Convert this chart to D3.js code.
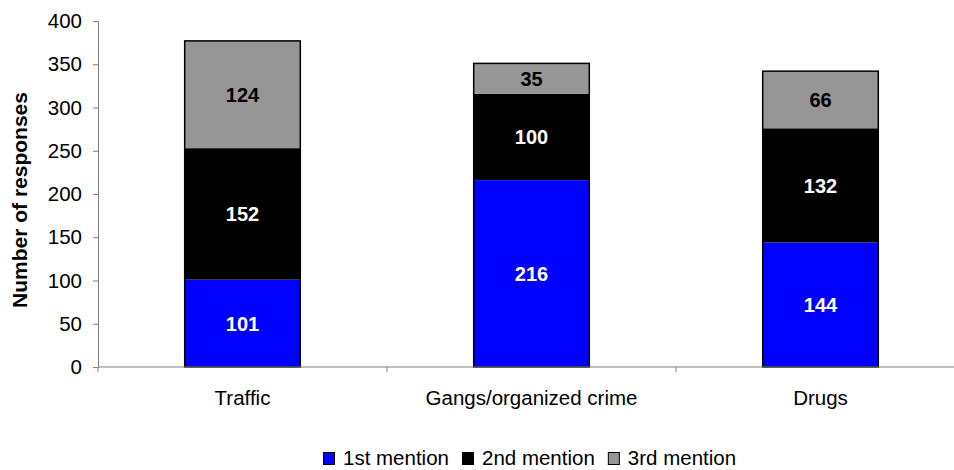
<!DOCTYPE html>
<html>
<head>
<meta charset="utf-8">
<script src="https://cdn.jsdelivr.net/npm/d3@7"></script>
<style>
  html, body { margin: 0; padding: 0; background: #fff; }
  svg { display: block; font-family: "Liberation Sans", Arial, sans-serif; }
</style>
</head>
<body>
<svg id="chart" width="954" height="470"></svg>
<script>
// Responses by category, stacked by mention order
const categories = ["Traffic", "Gangs/organized crime", "Drugs"];
const seriesNames = ["1st mention", "2nd mention", "3rd mention"];
const firstMention = [101, 216, 144];
const secondMention = [152, 100, 132];
const thirdMention = [124, 35, 66];
const yTicks = [0, 50, 100, 150, 200, 250, 300, 350, 400];
const colors = ["#0000ff", "#000000", "#969696"];
const labelColors = ["#ffffff", "#ffffff", "#000000"];

(function () {
  const rows = categories.map((c, i) => ({
    category: c,
    "1st mention": firstMention[i],
    "2nd mention": secondMention[i],
    "3rd mention": thirdMention[i]
  }));
  const total = d => d["1st mention"] + d["2nd mention"] + d["3rd mention"];

  const svg = d3.select("#chart");
  const plotLeft = 98, plotTop = 21, plotBottom = 367;
  const bandW = 289;
  const fontSize = 20.5;

  const x = d3.scaleBand()
    .domain(categories)
    .range([plotLeft, plotLeft + bandW * categories.length])
    .paddingInner(0.6).paddingOuter(0.3);

  const y = d3.scaleLinear().domain([0, 400]).range([plotBottom, plotTop]);

  const stack = d3.stack().keys(seriesNames)(rows);

  // Bars
  stack.forEach((layer, li) => {
    svg.append("g").selectAll("rect").data(layer).join("rect")
      .attr("x", d => x(d.data.category))
      .attr("y", d => y(d[1]))
      .attr("width", x.bandwidth())
      .attr("height", d => y(d[0]) - y(d[1]))
      .attr("fill", colors[li]);
  });

  // Outline around each stacked bar
  svg.append("g").selectAll("rect").data(rows).join("rect")
    .attr("x", d => x(d.category))
    .attr("y", d => y(total(d)))
    .attr("width", x.bandwidth())
    .attr("height", d => y(0) - y(total(d)))
    .attr("fill", "none").attr("stroke", "#000").attr("stroke-width", 1.5);

  // Value labels
  stack.forEach((layer, li) => {
    svg.append("g").selectAll("text").data(layer).join("text")
      .attr("x", d => x(d.data.category) + x.bandwidth() / 2)
      .attr("y", d => (y(d[0]) + y(d[1])) / 2)
      .attr("dy", "0.36em")
      .attr("text-anchor", "middle")
      .attr("font-size", 20).attr("font-weight", "bold")
      .attr("fill", labelColors[li])
      .text(d => d.data[seriesNames[li]]);
  });

  // Y axis
  const yAxis = svg.append("g").attr("transform", `translate(${plotLeft},0)`)
    .call(d3.axisLeft(y).tickValues(yTicks).tickSize(5).tickPadding(11));
  yAxis.select(".domain").attr("stroke", "#808080");
  yAxis.selectAll(".tick line").attr("stroke", "#808080");
  yAxis.selectAll(".tick text").attr("font-size", fontSize).attr("fill", "#000")
    .attr("font-family", "Liberation Sans, Arial, sans-serif");

  // X axis
  const xAxisG = svg.append("g").attr("transform", `translate(0,${plotBottom})`);
  xAxisG.append("line").attr("x1", plotLeft).attr("x2", 954).attr("y1", 0).attr("y2", 0)
    .attr("stroke", "#808080");
  const boundaries = d3.range(categories.length + 1).map(i => plotLeft + i * bandW);
  xAxisG.selectAll(".bt").data(boundaries).join("line")
    .attr("x1", d => d).attr("x2", d => d).attr("y1", 0).attr("y2", 5)
    .attr("stroke", "#808080");
  xAxisG.selectAll(".xl").data(categories).join("text")
    .attr("x", d => x(d) + x.bandwidth() / 2)
    .attr("y", 38)
    .attr("text-anchor", "middle")
    .attr("font-size", fontSize).attr("fill", "#000")
    .text(d => d);

  // Y axis title
  svg.append("text")
    .attr("transform", `translate(27,200) rotate(-90)`)
    .attr("text-anchor", "middle")
    .attr("font-size", 21).attr("font-weight", "bold")
    .text("Number of responses");

  // Legend
  const legend = svg.append("g").attr("transform", "translate(323,465)");
  let lx = 0;
  seriesNames.forEach((name, i) => {
    const g = legend.append("g").attr("transform", `translate(${lx},0)`);
    g.append("rect").attr("x", 0.5).attr("y", -12.5).attr("width", 11).attr("height", 12)
      .attr("fill", colors[i]).attr("stroke", "#000").attr("stroke-width", 1);
    const t = g.append("text").attr("x", 20).attr("y", 0)
      .attr("font-size", fontSize).text(name);
    lx += 20 + t.node().getComputedTextLength() + 13;
  });
})();
</script>
</body>
</html>
